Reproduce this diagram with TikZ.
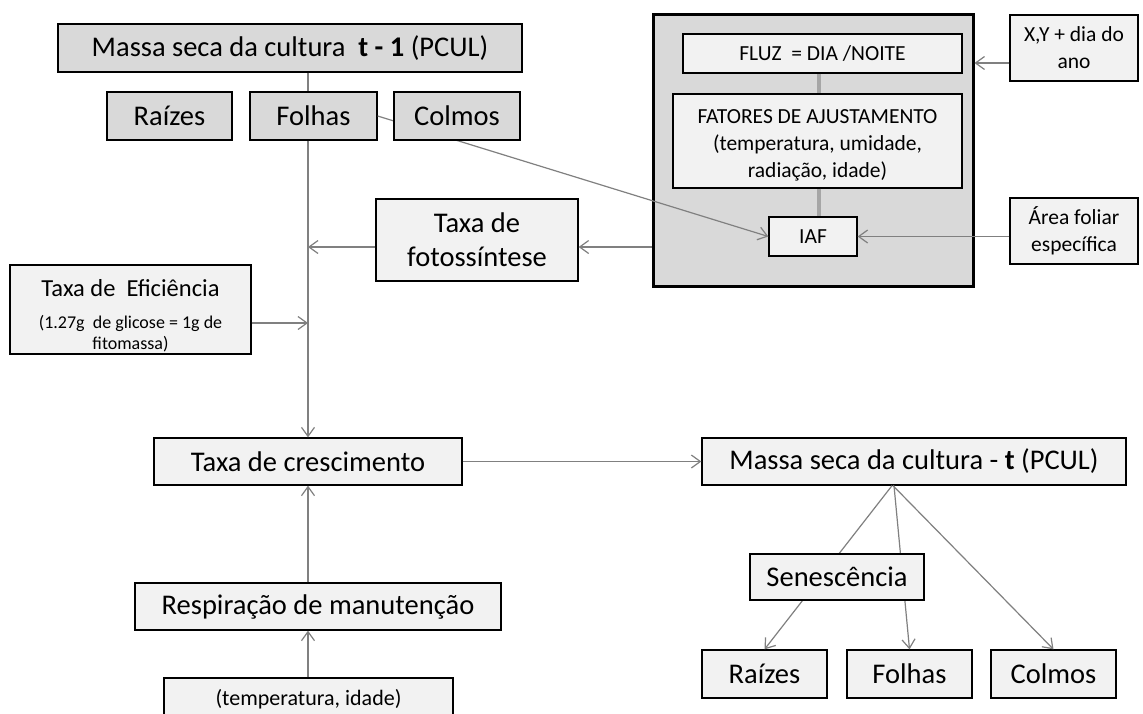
\documentclass[tikz,border=0pt]{standalone}
\usepackage{fontspec}
\setmainfont{Carlito}
\usetikzlibrary{arrows.meta}
\definecolor{cinzaescuro}{RGB}{217,217,217}
\definecolor{cinzaclaro}{RGB}{242,242,242}
\definecolor{linha}{RGB}{128,128,128}
\definecolor{ligacao}{RGB}{166,166,166}
\newcommand{\fonteA}{\fontsize{28.5}{34}\selectfont}
\newcommand{\fonteB}{\fontsize{21.5}{27}\selectfont}
\newcommand{\fonteC}{\fontsize{24.5}{30}\selectfont}
\newcommand{\fonteD}{\fontsize{18}{21.6}\selectfont}
\newcommand{\fonteE}{\fontsize{22}{27}\selectfont}
\tikzset{
	caixa/.style={draw,line width=1.3pt,inner sep=0pt,align=center,font=\fonteA},
	escura/.style={caixa,fill=cinzaescuro},
	clara/.style={caixa,fill=cinzaclaro},
	pequena/.style={clara,font=\fonteB},
	seta/.style={draw=linha,line width=1.2pt,-{Straight Barb[length=9pt,width=13pt]}},
	traco/.style={draw=linha,line width=1.2pt},
}

\begin{document}
\begin{tikzpicture}[x=1pt,y=-1pt]
			\clip (0,0) rectangle (1143,713);
			\fill[white] (0,0) rectangle (1143,713);
			% posicoes
			\coordinate (m_0) at (290,48);
			\coordinate (r_0) at (169.5,116);
			\coordinate (f_0) at (313.5,116);
			\coordinate (c_0) at (457,116);
			\coordinate (q) at (813,150);
			\coordinate (fl) at (822.5,53.5);
			\coordinate (fa) at (817.5,141);
			\coordinate (ia) at (813,236.5);
			\coordinate (xy) at (1074,48);
			\coordinate (af) at (1074,231);
			\coordinate (tf) at (477,240);
			\coordinate (te) at (130.5,309.5);
			\coordinate (tc) at (308,461.5);
			\coordinate (rm) at (318,606.5);
			\coordinate (ti) at (308.5,699);
			\coordinate (m_1) at (914,461.5);
			\coordinate (se) at (837,577);
			\coordinate (r_1) at (764.5,674);
			\coordinate (f_1) at (909.5,674);
			\coordinate (c_1) at (1053.5,674);
			\coordinate (j_1) at (308,247);
			\coordinate (j_2) at (308,323);
			\coordinate (j_3) at (990,63);
			\coordinate (j_4) at (819,0);
			% quadro da fotossintese
			\node[draw,line width=3pt,fill=cinzaescuro,minimum width=320pt,minimum height=272pt] (ModeloNode) at (q) {};
			\node[pequena,minimum width=279pt,minimum height=39pt] (FluzNode) at (fl) {FLUZ\ \ = DIA /NOITE};
			\node[pequena,minimum width=289pt,minimum height=94pt] (FatoresNode) at (fa) {\rule{0pt}{22pt}FATORES DE AJUSTAMENTO\\(temperatura, umidade,\\radiação, idade)};
			\node[pequena,minimum width=88pt,minimum height=39pt] (IAFNode) at (ia) {IAF};
			\draw[ligacao,line width=4.5pt] (FluzNode.south -| j_4) -- (FatoresNode.north -| j_4);
			\draw[ligacao,line width=4.5pt] (FatoresNode.south -| j_4) -- (IAFNode.north -| j_4);
			\node[pequena,minimum width=128pt,minimum height=66pt] (XYNode) at (xy) {X,Y + dia do\\ano};
			\node[pequena,minimum width=128pt,minimum height=66pt] (AreaNode) at (af) {Área foliar\\específica};
			% massa seca t-1
			\node[escura,minimum width=464pt,minimum height=48pt] (MassaNode0) at (m_0) {Massa seca da cultura\ \ \textbf{t - 1} (PCUL)};
			\node[escura,minimum width=125pt,minimum height=48pt] (RaizesNode0) at (r_0) {Raízes};
			\node[escura,minimum width=127pt,minimum height=48pt] (FolhasNode0) at (f_0) {Folhas};
			\draw[seta] (FolhasNode0.east) -- (IAFNode.west);
			\node[escura,minimum width=126pt,minimum height=48pt] (ColmosNode0) at (c_0) {Colmos};
			\node[clara,minimum width=202pt,minimum height=82pt] (TaxaFNode) at (tf) {Taxa de\\fotossíntese};
			\node[clara,font=\fonteD,minimum width=241pt,minimum height=89pt] (TaxaENode) at (te) {{\fonteC\rule{0pt}{30pt}Taxa de\ \ Eficiência}\\[10pt](1.27g\ \ de glicose = 1g de\\fitomassa)};
			\node[clara,minimum width=308pt,minimum height=47pt] (TaxaCNode) at (tc) {Taxa de crescimento};
			\node[clara,minimum width=366pt,minimum height=47pt] (RespNode) at (rm) {Respiração de manutenção};
			\node[clara,font=\fonteE,minimum width=289pt,minimum height=42pt] (TempNode) at (ti) {(temperatura, idade)};
			% massa seca t
			\node[clara,minimum width=424pt,minimum height=47pt] (MassaNode1) at (m_1) {Massa seca da cultura - \textbf{t} (PCUL)};
			\node[clara,minimum width=125pt,minimum height=48pt] (RaizesNode1) at (r_1) {Raízes};
			\node[clara,minimum width=125pt,minimum height=48pt] (FolhasNode1) at (f_1) {Folhas};
			\node[clara,minimum width=125pt,minimum height=48pt] (ColmosNode1) at (c_1) {Colmos};
			% ligacoes
			\draw[traco] (MassaNode0.south -| TaxaCNode) -- (FolhasNode0.north -| TaxaCNode);
			\draw[seta] (FolhasNode0.south -| TaxaCNode) -- (TaxaCNode.north);
			\draw[seta] (ModeloNode.west |- j_1) -- (TaxaFNode.east |- j_1);
			\draw[seta] (TaxaFNode.west |- j_1) -- (j_1);
			\draw[seta] (TaxaENode.east |- j_2) -- (j_2);
			\draw[seta] (XYNode.west |- j_3) -- (ModeloNode.east |- j_3);
			\draw[seta] (AreaNode.west |- IAFNode) -- (IAFNode.east);
			\draw[seta] (RespNode.north -| TaxaCNode) -- (TaxaCNode.south);
			\draw[seta] (TempNode.north -| TaxaCNode) -- (RespNode.south -| TaxaCNode);
			\draw[seta] (TaxaCNode.east) -- (MassaNode1.west);
			\draw[seta] ([xshift=-22pt]MassaNode1.south) -- (RaizesNode1.north);
			\draw[seta] ([xshift=-20pt]MassaNode1.south) -- (FolhasNode1.north);
			\draw[seta] ([xshift=-21pt]MassaNode1.south) -- (ColmosNode1.north);
			\node[clara,minimum width=174pt,minimum height=46pt] (SenescNode) at (se) {Senescência};
		\end{tikzpicture}
\end{document}
